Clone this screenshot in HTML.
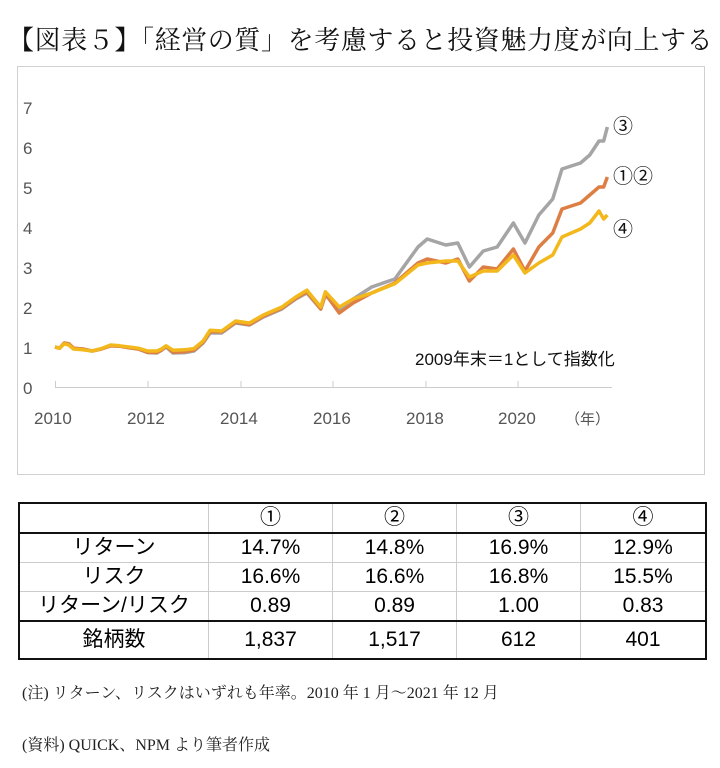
<!DOCTYPE html>
<html><head><meta charset="utf-8"><style>
html,body{margin:0;padding:0;background:#fff;}
body{width:720px;height:768px;position:relative;overflow:hidden;font-family:"Liberation Serif","Noto Serif CJK SC",serif;}
.t{position:absolute;white-space:nowrap;}
table{position:absolute;left:18px;top:502px;border-collapse:collapse;font-family:"Liberation Sans","Noto Sans CJK JP",sans-serif;font-size:21px;}
td{border:1px solid #ccc;text-align:center;padding:0;height:28px;line-height:26px;}
</style></head><body>
<div class="t" style="left:8px;top:20px;font-size:26px;letter-spacing:0.6px;color:#111;">【図表５】「経営の質」を考慮すると投資魅力度が向上する</div>
<svg style="position:absolute;left:0;top:0" width="720" height="490">
<rect x="17.5" y="66.5" width="687" height="408" fill="none" stroke="#d0d0d0"/>
<g font-family="Liberation Sans, sans-serif" font-size="17" fill="#555">
<text x="23" y="394">0</text><text x="23" y="354">1</text><text x="23" y="314">2</text><text x="23" y="274">3</text><text x="23" y="234">4</text><text x="23" y="194">5</text><text x="23" y="154">6</text><text x="23" y="114">7</text>
<text x="34" y="424">2010</text><text x="127" y="424">2012</text><text x="220" y="424">2014</text><text x="313" y="424">2016</text><text x="406" y="424">2018</text><text x="498" y="424">2020</text>
<text x="565" y="424" font-family="Noto Sans CJK JP, sans-serif" font-size="15">（年）</text>
</g>
<line x1="55" y1="387.5" x2="612" y2="387.5" stroke="#ccc"/>
<g stroke="#ccc"><line x1="55.5" y1="381" x2="55.5" y2="388"/><line x1="148" y1="381" x2="148" y2="388"/><line x1="241" y1="381" x2="241" y2="388"/><line x1="333" y1="381" x2="333" y2="388"/><line x1="426" y1="381" x2="426" y2="388"/><line x1="518" y1="381" x2="518" y2="388"/></g>
<g transform="translate(55,387) scale(46.3,-40)" fill="none" stroke-width="3.5" stroke-linejoin="round">
<polyline vector-effect="non-scaling-stroke" stroke="#a5a5a5" points="0,1 0.1,0.97 0.2,1.1 0.3,1.08 0.4,0.97 0.6,0.95 0.8,0.9 1,0.95 1.2,1.03 1.4,1.02 1.6,0.98 1.8,0.95 2,0.86 2.2,0.85 2.3,0.92 2.4,1.0 2.55,0.85 2.8,0.86 3,0.9 3.2,1.1 3.35,1.35 3.6,1.35 3.9,1.6 4.2,1.55 4.5,1.75 4.9,1.95 5.2,2.2 5.44,2.35 5.74,1.95 5.84,2.3 6.14,1.95 6.44,2.2 6.84,2.5 7.34,2.7 7.84,3.5 8.04,3.7 8.44,3.55 8.7,3.6 8.95,3.0 9.25,3.4 9.55,3.5 9.9,4.1 10.15,3.6 10.45,4.3 10.75,4.7 10.95,5.45 11.35,5.6 11.55,5.8 11.75,6.15 11.85,6.15 11.93,6.5"/>
<polyline vector-effect="non-scaling-stroke" stroke="#dd7f44" points="0,1 0.1,0.97 0.2,1.1 0.3,1.08 0.4,0.97 0.6,0.95 0.8,0.9 1,0.95 1.2,1.03 1.4,1.02 1.6,0.98 1.8,0.95 2,0.87 2.2,0.86 2.3,0.92 2.4,1.02 2.55,0.87 2.8,0.88 3,0.92 3.2,1.12 3.35,1.38 3.6,1.38 3.9,1.62 4.2,1.56 4.5,1.77 4.9,1.97 5.2,2.22 5.44,2.38 5.74,1.95 5.84,2.33 6.14,1.85 6.44,2.1 6.84,2.35 7.34,2.6 7.84,3.1 8.04,3.2 8.44,3.1 8.7,3.2 8.95,2.65 9.25,3.0 9.55,2.95 9.9,3.45 10.15,2.9 10.45,3.5 10.75,3.85 10.95,4.45 11.35,4.6 11.55,4.8 11.75,5.0 11.85,5.0 11.93,5.25"/>
<polyline vector-effect="non-scaling-stroke" stroke="#f2b81c" points="0,1 0.1,0.97 0.2,1.08 0.3,1.05 0.4,0.95 0.6,0.93 0.8,0.9 1,0.96 1.2,1.05 1.4,1.03 1.6,1.0 1.8,0.97 2,0.9 2.2,0.9 2.3,0.95 2.4,1.03 2.55,0.92 2.8,0.93 3,0.96 3.2,1.15 3.35,1.42 3.6,1.4 3.9,1.65 4.2,1.6 4.5,1.8 4.9,2.0 5.2,2.25 5.44,2.42 5.74,2.0 5.84,2.38 6.14,2.0 6.44,2.2 6.84,2.35 7.34,2.58 7.84,3.05 8.04,3.1 8.44,3.15 8.7,3.15 8.95,2.75 9.25,2.9 9.55,2.9 9.9,3.3 10.15,2.85 10.45,3.1 10.75,3.3 10.95,3.75 11.35,3.95 11.55,4.1 11.75,4.4 11.85,4.2 11.93,4.3"/>
</g>
<g font-family="Liberation Sans, Noto Sans CJK JP, sans-serif" fill="#111">
<text x="613" y="133" font-size="20">③</text>
<text x="613" y="183" font-size="20">①②</text>
<text x="613" y="236" font-size="20">④</text>
<text x="415" y="365" font-size="17">2009年末＝1として指数化</text>
</g>
</svg>
<table>
<tr style="border-bottom:2px solid #111"><td style="width:188px;border-left:2px solid #111;border-top:2px solid #111">&nbsp;</td><td style="width:123px;border-top:2px solid #111">①</td><td style="width:123px;border-top:2px solid #111">②</td><td style="width:123px;border-top:2px solid #111">③</td><td style="width:124px;border-top:2px solid #111;border-right:2px solid #111">④</td></tr>
<tr><td style="border-left:2px solid #111">リターン</td><td>14.7%</td><td>14.8%</td><td>16.9%</td><td style="border-right:2px solid #111">12.9%</td></tr>
<tr><td style="border-left:2px solid #111">リスク</td><td>16.6%</td><td>16.6%</td><td>16.8%</td><td style="border-right:2px solid #111">15.5%</td></tr>
<tr style="border-bottom:2px solid #111"><td style="border-left:2px solid #111">リターン/リスク</td><td>0.89</td><td>0.89</td><td>1.00</td><td style="border-right:2px solid #111">0.83</td></tr>
<tr style="border-bottom:2px solid #111"><td style="border-left:2px solid #111;height:36px">銘柄数</td><td>1,837</td><td>1,517</td><td>612</td><td style="border-right:2px solid #111">401</td></tr>
</table>
<div class="t" style="left:22px;top:680px;font-size:16px;color:#222;">(注) リターン、リスクはいずれも年率。2010 年 1 月～2021 年 12 月</div>
<div class="t" style="left:22px;top:732px;font-size:16px;color:#222;">(資料) QUICK、NPM より筆者作成</div>
</body></html>
